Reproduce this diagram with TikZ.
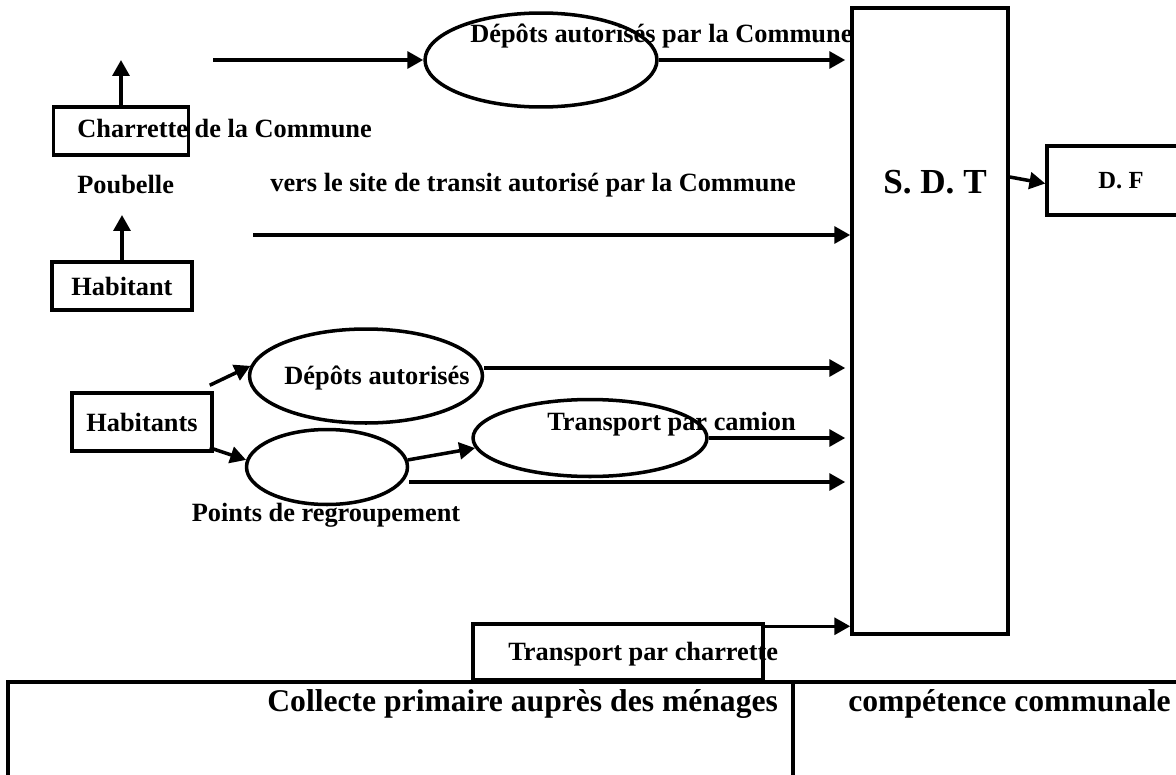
\documentclass[tikz,border=0pt]{standalone}
\usepackage{fontspec}
\setmainfont{Liberation Serif}
\usetikzlibrary{shapes.geometric, arrows.meta}

\begin{document}
\begin{tikzpicture}
        [
            x=0.02cm, y=-0.02cm,
            every node/.style = {font=\bfseries\fontsize{15}{18}\selectfont},
            box/.style = {draw, shape=rectangle, line width=2pt, inner sep=0pt},
            oval/.style = {draw, shape=ellipse, line width=2pt, inner sep=0pt},
            lbl/.style = {inner sep=0pt, anchor=west},
            arr/.style = {-{Triangle[length=9pt,width=9.5pt]}, line width=2pt},
            frame/.style = {line width=2pt},
        ]

        \useasboundingbox (0,0) rectangle (1176,774);

        \node[box, minimum width=2.7cm, minimum height=0.96cm] (charbox) at (121,131) {};
        \node[box, minimum width=2.8cm, minimum height=0.96cm] (habbox) at (122,286) {Habitant};
        \node[box, minimum width=2.8cm, minimum height=1.16cm] (habs) at (142,422) {Habitants};
        \node[box, minimum width=3.12cm, minimum height=12.52cm] (sdt) at (930,321) {};
        \node[box, minimum width=2.96cm, minimum height=1.38cm, font=\bfseries\fontsize{14}{17}\selectfont] (df) at (1121,180.5) {D. F};
        \node[box, minimum width=5.8cm, minimum height=1.12cm] (trbox) at (618,652) {};

        \node[oval, minimum width=4.64cm, minimum height=1.88cm] (e1) at (541,60) {};
        \node[oval, minimum width=4.66cm, minimum height=1.88cm] (e2) at (366,376) {};
        \node[oval, minimum width=3.22cm, minimum height=1.5cm] (e3) at (327,467) {};
        \node[oval, minimum width=4.68cm, minimum height=1.54cm] (e4) at (590,438) {};

        \node[lbl] (chartext) at (77,129) {Charrette de la Commune};
        \node[lbl] (poub) at (77,185) {Poubelle};
        \node[lbl] (vers) at (270,185) {vers le site de transit autorisé par la Commune};
        \node[lbl] (e1text) at (470,36) {Dépôts autorisés par la Commune};
        \node[font=\bfseries\fontsize{20}{24}\selectfont] (sdtlabel) at (935,182) {S. D. T};
        \node (e2text) at (377,378) {Dépôts autorisés};
        \node[lbl] (e4text) at (547,424) {Transport par camion};
        \node (e3text) at (326,515) {Points de regroupement};
        \node[lbl] (trtext) at (508,654) {Transport par charrette};
        \node[lbl, font=\bfseries\fontsize{18}{22}\selectfont] (collecte) at (267,704) {Collecte primaire auprès des ménages};
        \node[lbl, font=\bfseries\fontsize{18}{22}\selectfont] (competence) at (848,704) {compétence communale};

        \coordinate (charup) at (121,60);
        \coordinate (habup) at (122,215);
        \coordinate (topstart) at (213,60);
        \coordinate (midstart) at (253,235);

        \draw [arr] (charbox.north) -- (charup);
        \draw [arr] (habbox.north) -- (habup);
        \draw [arr] (topstart) -- (e1.west);
        \draw [arr, shorten >=0.1cm] (e1.east) -- (e1.east -| sdt.west);
        \draw [arr] (midstart) -- (midstart -| sdt.west);

        \draw [arr] ([shift={(-4,-6)}]habs.north east) -- (e2.175);
        \draw [arr] ([shift={(-4,-5)}]habs.south east) -- (e3.175);
        \draw [arr] (e3.5) -- (e4.185);
        \draw [arr, shorten >=0.1cm] ([shift={(0,-8)}]e2.east) -- ([shift={(0,-8)}]e2.east -| sdt.west);
        \draw [arr, shorten >=0.1cm] (e4.east) -- (e4.east -| sdt.west);
        \draw [arr, shorten >=0.1cm] ([shift={(0,15)}]e3.east) -- ([shift={(0,15)}]e3.east -| sdt.west);
        \draw [arr] ([shift={(0,4)}]trbox.north east) -- ([shift={(0,4)}]trbox.north east -| sdt.west);
        \draw [arr] ([shift={(0,-144)}]sdt.east) -- ([shift={(0,3)}]df.west);

        \draw [frame] (8,780) -- (8,682) -- (1180,682);
        \draw [frame] (793,682) -- (793,780);
    \end{tikzpicture}
\end{document}
